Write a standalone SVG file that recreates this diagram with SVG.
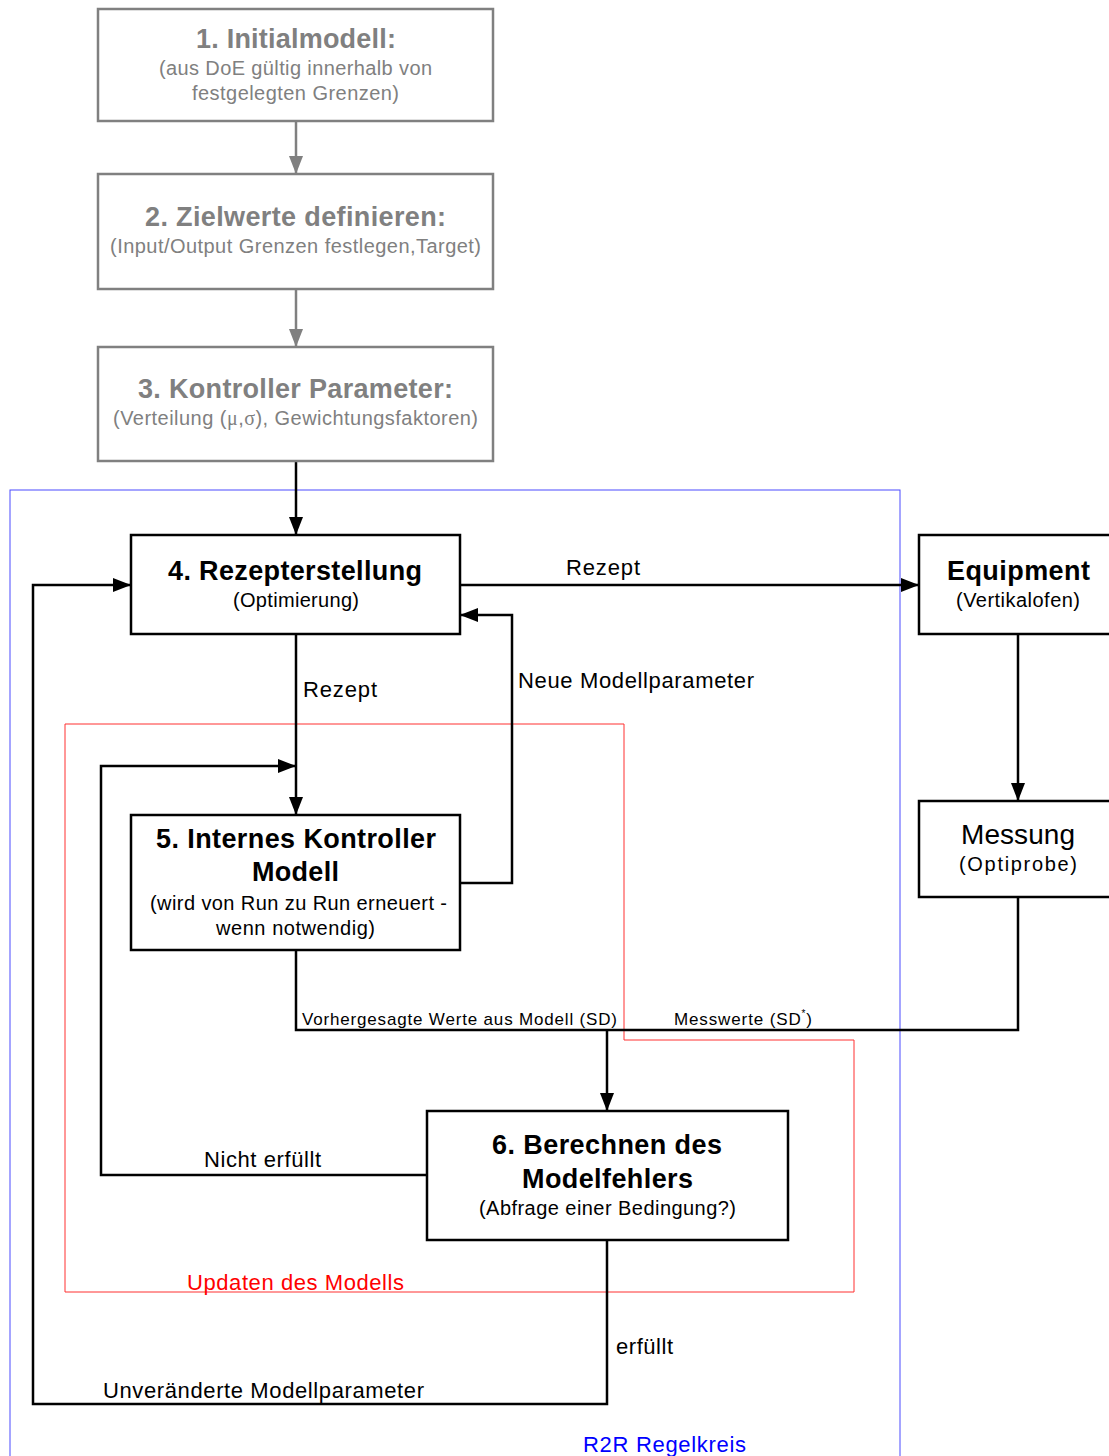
<svg xmlns="http://www.w3.org/2000/svg" width="1109" height="1456" viewBox="0 0 1109 1456">
  <defs>
    <style>
      .box { fill: #ffffff; stroke: #000000; stroke-width: 2.5; }
      .gbox { fill: #ffffff; stroke: #808080; stroke-width: 2.5; }
      .wire { fill: none; stroke: #000000; stroke-width: 2.5; }
      .gwire { fill: none; stroke: #808080; stroke-width: 2.5; }
      text { font-family: "Liberation Sans", Arial, sans-serif; }
      .t { font-size: 27px; font-weight: bold; fill: #000000; }
      .gt { font-size: 27px; font-weight: bold; fill: #808080; }
      .s { font-size: 20px; fill: #000000; }
      .gs { font-size: 20px; fill: #808080; }
      .lbl { font-size: 22px; fill: #000000; }
      .sm { font-size: 17px; fill: #000000; }
      .sym { font-family: "Liberation Serif", "Times New Roman", serif; }
    </style>
    <marker id="ah" markerUnits="userSpaceOnUse" markerWidth="20" markerHeight="14" refX="18" refY="7" orient="auto">
      <path d="M0,0 L18,7 L0,14 z" fill="#000000"/>
    </marker>
    <marker id="gah" markerUnits="userSpaceOnUse" markerWidth="20" markerHeight="14" refX="18" refY="7" orient="auto">
      <path d="M0,0 L18,7 L0,14 z" fill="#808080"/>
    </marker>
  </defs>

  <rect width="1109" height="1456" fill="#ffffff"/>

  <!-- loop frames -->
  <g id="frames">
    <rect x="10" y="490" width="890" height="990" fill="none" stroke="#4a4aff" stroke-width="1"/>
    <path d="M65,724 H624 V1040 H854 V1292 H65 Z" fill="none" stroke="#ff3030" stroke-width="1"/>
    <text x="187" y="1290" textLength="217" style="font-size:22px;fill:#ff0000">Updaten des Modells</text>
    <text x="583" y="1452" textLength="163" style="font-size:22px;fill:#0000ff">R2R Regelkreis</text>
  </g>

  <!-- connectors -->
  <g id="connectors">
    <path class="gwire" d="M296,121 V174" marker-end="url(#gah)"/>
    <path class="gwire" d="M296,289 V347" marker-end="url(#gah)"/>
    <path class="wire" d="M296,461 V535" marker-end="url(#ah)"/>
    <path class="wire" d="M460,585 H919" marker-end="url(#ah)"/>
    <path class="wire" d="M607,1240 V1404 H33 V585 H131" marker-end="url(#ah)"/>
    <path class="wire" d="M460,883 H512 V615 H460" marker-end="url(#ah)"/>
    <path class="wire" d="M296,634 V815" marker-end="url(#ah)"/>
    <path class="wire" d="M427,1175 H101 V766 H296" marker-end="url(#ah)"/>
    <path class="wire" d="M296,950 V1030 H1018 V897"/>
    <path class="wire" d="M607,1030 V1111" marker-end="url(#ah)"/>
    <path class="wire" d="M1018,634 V801" marker-end="url(#ah)"/>

    <text class="lbl" x="566" y="575" textLength="74">Rezept</text>
    <text class="lbl" x="518" y="688" textLength="236">Neue Modellparameter</text>
    <text class="lbl" x="303" y="697" textLength="74">Rezept</text>
    <text class="sm" x="302" y="1025" textLength="315">Vorhergesagte Werte aus Modell (SD)</text>
    <text class="sm" x="674" y="1025" textLength="138">Messwerte (SD<tspan dy="-8" style="font-size:10px">*</tspan><tspan dy="8">)</tspan></text>
    <text class="lbl" x="204" y="1167" textLength="117">Nicht erfüllt</text>
    <text class="lbl" x="616" y="1354" textLength="57">erfüllt</text>
    <text class="lbl" x="103" y="1398" textLength="321">Unveränderte Modellparameter</text>
  </g>

  <g id="n1">
    <rect class="gbox" x="98" y="9" width="395" height="112"/>
    <text class="gt" x="196" y="48" textLength="200">1. Initialmodell:</text>
    <text class="gs" x="159" y="75" textLength="273">(aus DoE gültig innerhalb von</text>
    <text class="gs" x="192" y="100" textLength="207">festgelegten Grenzen)</text>
  </g>

  <g id="n2">
    <rect class="gbox" x="98" y="174" width="395" height="115"/>
    <text class="gt" x="145" y="226" textLength="301">2. Zielwerte definieren:</text>
    <text class="gs" x="110" y="253" textLength="371">(Input/Output Grenzen festlegen,Target)</text>
  </g>

  <g id="n3">
    <rect class="gbox" x="98" y="347" width="395" height="114"/>
    <text class="gt" x="138" y="398" textLength="315">3. Kontroller Parameter:</text>
    <text class="gs" x="113" y="425" textLength="365">(Verteilung (<tspan class="sym">μ</tspan>,<tspan class="sym">σ</tspan>), Gewichtungsfaktoren)</text>
  </g>

  <g id="n4">
    <rect class="box" x="131" y="535" width="329" height="99"/>
    <text class="t" x="168" y="580" textLength="254">4. Rezepterstellung</text>
    <text class="s" x="233" y="607" textLength="126">(Optimierung)</text>
  </g>

  <g id="equipment">
    <rect class="box" x="919" y="535" width="200" height="99"/>
    <text class="t" x="947" y="580" textLength="143">Equipment</text>
    <text class="s" x="956" y="607" textLength="124">(Vertikalofen)</text>
  </g>

  <g id="messung">
    <rect class="box" x="919" y="801" width="200" height="96"/>
    <text x="961" y="844" textLength="114" style="font-size:28px;fill:#000000">Messung</text>
    <text class="s" x="959" y="871" textLength="118">(Optiprobe)</text>
  </g>

  <g id="n5">
    <rect class="box" x="131" y="815" width="329" height="135"/>
    <text class="t" x="156" y="848" textLength="280">5. Internes Kontroller</text>
    <text class="t" x="252" y="881" textLength="87">Modell</text>
    <text class="s" x="150" y="910" textLength="297">(wird von Run zu Run erneuert -</text>
    <text class="s" x="216" y="935" textLength="159">wenn notwendig)</text>
  </g>

  <g id="n6">
    <rect class="box" x="427" y="1111" width="361" height="129"/>
    <text class="t" x="492" y="1154" textLength="230">6. Berechnen des</text>
    <text class="t" x="522" y="1188" textLength="171">Modelfehlers</text>
    <text class="s" x="479" y="1215" textLength="257">(Abfrage einer Bedingung?)</text>
  </g>
</svg>
